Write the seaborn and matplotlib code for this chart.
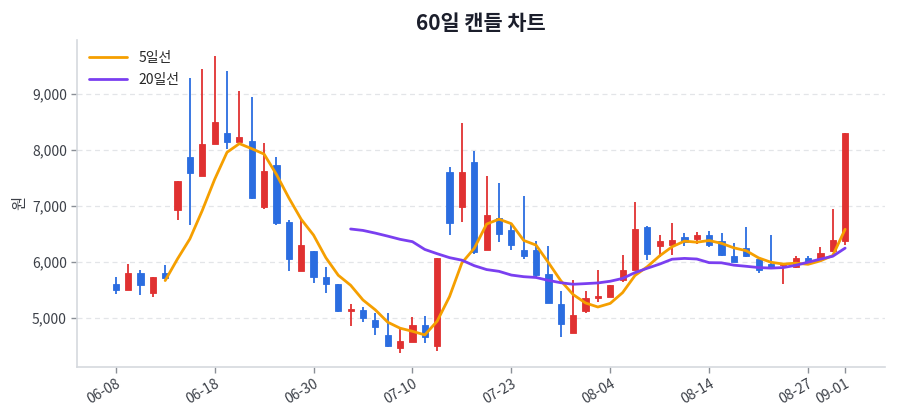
import numpy as np
import pandas as pd
import seaborn as sns
import matplotlib
matplotlib.use("Agg")
import matplotlib.pyplot as plt
from matplotlib.ticker import FuncFormatter

sns.set_theme(style="white")
plt.rcParams['font.family'] = ['Noto Sans CJK KR', 'DejaVu Sans']

# 60 trading days
dates = ['06-08', '06-09', '06-10', '06-11', '06-12', '06-15', '06-16', '06-17',
         '06-18', '06-19', '06-22', '06-23', '06-24', '06-25', '06-26', '06-29',
         '06-30', '07-01', '07-02', '07-03', '07-06', '07-07', '07-08', '07-09',
         '07-10', '07-13', '07-15', '07-16', '07-17', '07-20', '07-21', '07-22',
         '07-23', '07-24', '07-27', '07-28', '07-29', '07-30', '07-31', '08-03',
         '08-04', '08-05', '08-06', '08-07', '08-10', '08-11', '08-12', '08-13',
         '08-14', '08-18', '08-19', '08-20', '08-21', '08-24', '08-25', '08-26',
         '08-27', '08-28', '08-31', '09-01']

opens = [5613, 5506, 5804, 5452, 5804, 6922, 7875, 7530, 8100, 8303,
         8143, 8155, 6988, 7732, 6708, 5845, 6202, 5738, 5607, 5126,
         5150, 4964, 4700, 4473, 4580, 4880, 4500, 7600, 6985, 7791,
         6209, 6788, 6567, 6209, 6209, 5778, 5251, 4742, 5119, 5353,
         5383, 5671, 5862, 6617, 6282, 6300, 6448, 6418, 6478, 6376,
         6107, 6251, 6060, 5958, 5940, 5910, 6072, 6060, 6197, 6376]
highs = [5732, 5958, 5863, 5732, 5940, 7446, 9291, 9440, 9677, 9411,
         9059, 8952, 8131, 7881, 6750, 6750, 6202, 5917, 5607, 5251,
         5191, 5084, 5084, 4802, 5012, 5042, 6070, 7701, 8478, 7982,
         7540, 7415, 6704, 7176, 6370, 6293, 5491, 5671, 5491, 5850,
         5599, 6132, 7066, 6641, 6491, 6689, 6519, 6537, 6555, 6519,
         6346, 6627, 6060, 6478, 5960, 6101, 6101, 6269, 6943, 8298]
lows = [5435, 5494, 5405, 5375, 5720, 6744, 6655, 7530, 8100, 8023,
        8143, 7119, 6940, 6655, 5845, 5845, 5619, 5440, 5113, 4862,
        4922, 4700, 4485, 4383, 4580, 4562, 4420, 6478, 6716, 6149,
        6209, 6358, 6209, 6048, 5731, 5265, 4664, 4742, 5084, 5281,
        5383, 5641, 5862, 6030, 6090, 6120, 6281, 6316, 6269, 6101,
        6000, 6090, 5803, 5910, 5600, 5900, 5970, 6030, 6179, 6298]
closes = [5506, 5804, 5583, 5732, 5720, 7446, 7589, 8113, 8505, 8136,
          8226, 7137, 7631, 6690, 6048, 6310, 5726, 5607, 5130, 5156,
          4994, 4844, 4509, 4592, 4880, 4670, 6070, 6704, 7600, 6179,
          6836, 6507, 6299, 6107, 5761, 5275, 4892, 5060, 5359, 5401,
          5599, 5850, 6587, 6150, 6371, 6401, 6358, 6490, 6299, 6119,
          6000, 6101, 5851, 5910, 5958, 6078, 6000, 6161, 6388, 8298]

df = pd.DataFrame({'date': dates, 'open': opens, 'high': highs,
                   'low': lows, 'close': closes})
df['x'] = np.arange(len(df))
df['ma5'] = df['close'].rolling(5).mean()
df['ma20'] = df['close'].rolling(20).mean()

up_color = '#e03131'
down_color = '#2b6de0'
colors = np.where(df['close'] >= df['open'], up_color, down_color)

fig, ax = plt.subplots(figsize=(9, 4.2), dpi=100)

# wicks + bodies
ax.vlines(df['x'], df['low'], df['high'], colors=colors, linewidth=1.3, zorder=2)
body_low = np.minimum(df['open'], df['close'])
body_h = np.abs(df['close'] - df['open']).clip(lower=15)
ax.bar(df['x'], body_h, bottom=body_low, width=0.5, color=colors,
       edgecolor=colors, linewidth=0.6, zorder=3)

sns.lineplot(data=df, x='x', y='ma5', ax=ax, color='#f59f00', linewidth=2,
             label='5일선', zorder=4)
sns.lineplot(data=df, x='x', y='ma20', ax=ax, color='#7a3ff0', linewidth=2,
             label='20일선', zorder=4)

ax.set_xlim(-3.1, 62.2)
ax.set_ylim(4125, 9965)
ax.set_yticks([5000, 6000, 7000, 8000, 9000])
ax.yaxis.set_major_formatter(FuncFormatter(lambda v, p: f'{int(v):,}'))
tick_idx = [0, 8, 16, 24, 32, 40, 48, 56, 59]
ax.set_xticks(tick_idx)
ax.set_xticklabels([dates[i] for i in tick_idx], rotation=30, ha='right',
                   rotation_mode='anchor')

ax.grid(axis='y', color='#e3e5e8', linestyle=(0, (4, 3)), linewidth=0.9)
ax.set_axisbelow(True)
for s in ['top', 'right']:
    ax.spines[s].set_visible(False)
for s in ['left', 'bottom']:
    ax.spines[s].set_color('#d5d9de')
    ax.spines[s].set_linewidth(1.2)
ax.tick_params(axis='both', colors='#8a8f96', length=4, width=1,
               labelcolor='#3c4048', labelsize=10, direction='out')
ax.tick_params(axis='x', pad=3)
ax.tick_params(axis='x', bottom=True)
ax.tick_params(axis='y', left=True)

ax.set_xlabel('')
ax.set_ylabel('원', fontsize=11, color='#3c4048', labelpad=3)
ax.set_title('60일 캔들 차트', fontsize=15, fontweight='bold', color='#1b1e2b', pad=7)

ax.legend(loc='upper left', frameon=False, fontsize=10, handlelength=2.8,
          borderaxespad=0.4, labelspacing=0.6)

plt.subplots_adjust(left=0.086, right=0.983, top=0.905, bottom=0.126)
fig.savefig('out.png', dpi=100)
